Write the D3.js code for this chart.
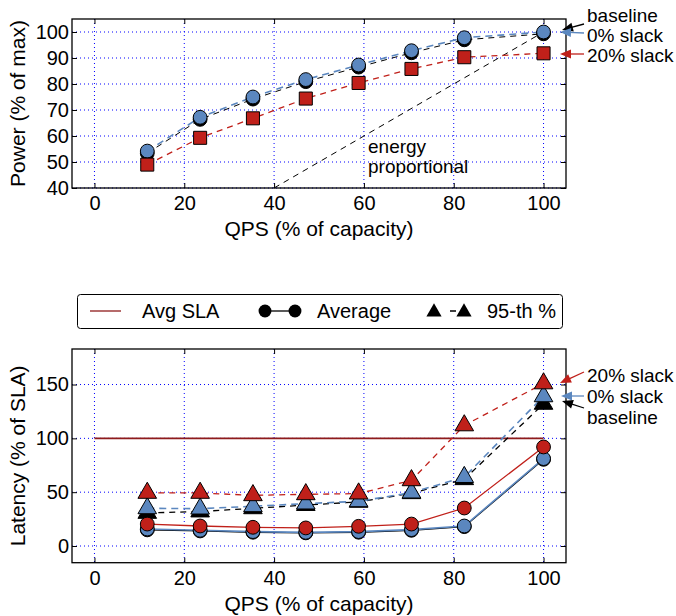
<!DOCTYPE html>
<html>
<head>
<meta charset="utf-8">
<script src="https://cdn.jsdelivr.net/npm/d3@7"></script>
<style>
  body { margin: 0; background: #fff; }
  svg { font-family: "Liberation Sans", Arial, sans-serif; }
</style>
</head>
<body>
<script>
// QPS load points (% of capacity)
const qps = [11.76, 23.53, 35.29, 47.06, 58.82, 70.59, 82.35, 100];

// top: power (% of max)
const powerBaseline = [53.4, 66.4, 74.2, 80.9, 86.5, 92.0, 97.0, 99.3];
const powerSlack0 = [54.2, 67.2, 75.0, 81.7, 87.3, 92.8, 97.8, 100];
const powerSlack20 = [49.0, 59.3, 66.8, 74.4, 80.4, 85.8, 90.3, 91.8];
const energyProp = [[40, 40], [100, 100]];

// bottom: latency (% of SLA)
const avgBaseline = [15.0, 14.0, 12.8, 12.2, 12.8, 14.6, 18.0, 80.5];
const avgSlack0 = [15.8, 14.6, 13.4, 12.7, 13.4, 15.2, 18.6, 81.2];
const avgSlack20 = [20.4, 18.6, 17.4, 16.8, 18.3, 20.4, 35.3, 92.0];
const p95Baseline = [30.7, 32.0, 35.0, 38.0, 41.0, 49.0, 62.0, 132.0];
const p95Slack0 = [35.0, 34.7, 36.9, 39.4, 41.5, 49.6, 64.0, 139.0];
const p95Slack20 = [49.3, 49.3, 47.1, 48.0, 48.7, 61.0, 112.0, 151.0];
const slaLevel = 100;

const xTicks = [0, 20, 40, 60, 80, 100];
const powerTicks = [40, 50, 60, 70, 80, 90, 100];
const latTicks = [0, 50, 100, 150];

const BLUE = "#5b87bf", RED = "#c0201a", DARKRED = "#8e1b1b";

const width = 676, height = 616;
const svg = d3.select("body").append("svg")
    .attr("width", width).attr("height", height);

const x = d3.scaleLinear().domain([-5, 105]).range([72, 566]);
const yP = d3.scaleLinear().domain([40, 105]).range([188, 19]);
const yL = d3.scaleLinear().domain([-15.5, 183]).range([562.7, 349]);

function frame(y, ticks, yLabel, yTop, yBot) {
    const g = svg.append("g");
    // dotted grid
    g.selectAll(".gx").data(xTicks).enter().append("line")
        .attr("x1", d => x(d)).attr("x2", d => x(d))
        .attr("y1", yTop).attr("y2", yBot)
        .attr("stroke", "#0000ff").attr("stroke-width", 1)
        .attr("stroke-dasharray", "1,3");
    g.selectAll(".gy").data(ticks).enter().append("line")
        .attr("x1", 72).attr("x2", 566)
        .attr("y1", d => y(d)).attr("y2", d => y(d))
        .attr("stroke", "#0000ff").attr("stroke-width", 1)
        .attr("stroke-dasharray", "1,3");

    const ax = svg.append("g").attr("transform", `translate(0,${yBot})`)
        .call(d3.axisBottom(x).tickValues(xTicks).tickSize(-5).tickPadding(8));
    const ay = svg.append("g").attr("transform", "translate(72,0)")
        .call(d3.axisLeft(y).tickValues(ticks).tickSize(-5).tickPadding(3));
    [ax, ay].forEach(a => {
        a.select(".domain").remove();
        a.selectAll("text").attr("font-size", 20).attr("fill", "#000")
            .attr("font-family", "Liberation Sans, Arial, sans-serif");
    });
    // tick marks on top/right edges
    svg.append("g").attr("transform", `translate(0,${yTop})`)
        .call(d3.axisTop(x).tickValues(xTicks).tickSize(-5).tickFormat(""))
        .select(".domain").remove();
    svg.append("g").attr("transform", "translate(566,0)")
        .call(d3.axisRight(y).tickValues(ticks).tickSize(-5).tickFormat(""))
        .select(".domain").remove();

    svg.append("rect").attr("x", 72).attr("y", yTop)
        .attr("width", 566 - 72).attr("height", yBot - yTop)
        .attr("fill", "none").attr("stroke", "#000").attr("stroke-width", 1.3);

    svg.append("text").attr("x", (72 + 566) / 2).attr("y", yBot + 48)
        .attr("text-anchor", "middle").attr("font-size", 21)
        .text("QPS (% of capacity)");
    svg.append("text")
        .attr("transform", `translate(25,${(yTop + yBot) / 2}) rotate(-90)`)
        .attr("text-anchor", "middle").attr("font-size", 21)
        .text(yLabel);
}

function series(y, vals, color, dash, w) {
    svg.append("path")
        .datum(qps.map((q, i) => [q, vals[i]]))
        .attr("fill", "none").attr("stroke", color)
        .attr("stroke-width", w || 1.3)
        .attr("stroke-dasharray", dash)
        .attr("d", d3.line().x(d => x(d[0])).y(d => y(d[1])));
}

function markers(y, vals, color, shape, size) {
    svg.append("g").selectAll("path")
        .data(qps.map((q, i) => [q, vals[i]]))
        .enter().append("path")
        .attr("transform", d => `translate(${x(d[0])},${y(d[1])})`)
        .attr("d", d3.symbol().type(shape).size(size))
        .attr("fill", color).attr("stroke", "#000").attr("stroke-width", 1);
}

function arrow(x1, y1, x2, y2, color) {
    const ang = Math.atan2(y2 - y1, x2 - x1);
    const L = 11, W = 4.5;
    svg.append("line").attr("x1", x1).attr("y1", y1)
        .attr("x2", x2 - Math.cos(ang) * L * 0.8).attr("y2", y2 - Math.sin(ang) * L * 0.8)
        .attr("stroke", color).attr("stroke-width", 1.3);
    const bx = x2 - Math.cos(ang) * L, by = y2 - Math.sin(ang) * L;
    const px = -Math.sin(ang) * W, py = Math.cos(ang) * W;
    svg.append("path")
        .attr("d", `M${x2},${y2}L${bx + px},${by + py}L${bx - px},${by - py}Z`)
        .attr("fill", color);
}

function note(txt, tx, ty) {
    svg.append("text").attr("x", tx).attr("y", ty).attr("font-size", 19).text(txt);
}

// ---------- top panel ----------
frame(yP, powerTicks, "Power (% of max)", 19, 188);

svg.append("path").datum(energyProp)
    .attr("fill", "none").attr("stroke", "#000").attr("stroke-width", 1)
    .attr("stroke-dasharray", "6,5")
    .attr("d", d3.line().x(d => x(d[0])).y(d => yP(d[1])));

series(yP, powerBaseline, "#000", "6,5", 1);
series(yP, powerSlack0, BLUE, "7,5", 1.6);
series(yP, powerSlack20, RED, "6,5", 1.3);
markers(yP, powerBaseline, "#000", d3.symbolCircle, 150);
markers(yP, powerSlack0, BLUE, d3.symbolCircle, 150);
markers(yP, powerSlack20, RED, d3.symbolSquare, 170);

svg.append("text").attr("x", 368).attr("y", 153).attr("font-size", 19).text("energy");
svg.append("text").attr("x", 368).attr("y", 173).attr("font-size", 19).text("proportional");

arrow(584, 24, 562, 30, "#000");
arrow(584, 33, 560, 32, BLUE);
arrow(584, 54, 560, 54, RED);
note("baseline", 587, 22);
note("0% slack", 587, 42);
note("20% slack", 587, 62);

// ---------- legend ----------
svg.append("rect").attr("x", 77.5).attr("y", 294.5).attr("width", 485).attr("height", 34)
    .attr("rx", 3).attr("fill", "#fff").attr("stroke", "#000").attr("stroke-width", 1);
svg.append("line").attr("x1", 90).attr("x2", 121).attr("y1", 311).attr("y2", 311)
    .attr("stroke", DARKRED).attr("stroke-width", 1.3);
svg.append("text").attr("x", 142).attr("y", 318).attr("font-size", 20).text("Avg SLA");
svg.append("line").attr("x1", 265).attr("x2", 295).attr("y1", 311).attr("y2", 311)
    .attr("stroke", "#000").attr("stroke-width", 1.3);
[265, 295].forEach(cx => svg.append("path").attr("transform", `translate(${cx},311)`)
    .attr("d", d3.symbol().type(d3.symbolCircle).size(130)).attr("fill", "#000"));
svg.append("text").attr("x", 317).attr("y", 318).attr("font-size", 20).text("Average");
svg.append("line").attr("x1", 442).attr("x2", 456).attr("y1", 311).attr("y2", 311)
    .attr("stroke", "#000").attr("stroke-width", 1.3).attr("stroke-dasharray", "0,8,6");
[434, 464].forEach(cx => svg.append("path").attr("transform", `translate(${cx},312)`)
    .attr("d", d3.symbol().type(d3.symbolTriangle).size(100)).attr("fill", "#000"));
svg.append("text").attr("x", 487).attr("y", 318).attr("font-size", 20).text("95-th %");

// ---------- bottom panel ----------
frame(yL, latTicks, "Latency (% of SLA)", 349, 562.7);

svg.append("line").attr("x1", x(0)).attr("x2", x(100))
    .attr("y1", yL(slaLevel)).attr("y2", yL(slaLevel))
    .attr("stroke", DARKRED).attr("stroke-width", 1.6);

series(yL, p95Baseline, "#000", "6,5", 1.3);
series(yL, p95Slack0, BLUE, "7,5", 1.6);
series(yL, p95Slack20, RED, "6,5", 1.3);
series(yL, avgBaseline, "#000", null, 1.3);
series(yL, avgSlack0, BLUE, null, 1.6);
series(yL, avgSlack20, RED, null, 1.3);

markers(yL, p95Baseline, "#000", d3.symbolTriangle, 150);
markers(yL, p95Slack0, BLUE, d3.symbolTriangle, 150);
markers(yL, p95Slack20, RED, d3.symbolTriangle, 150);
markers(yL, avgBaseline, "#000", d3.symbolCircle, 150);
markers(yL, avgSlack0, BLUE, d3.symbolCircle, 150);
markers(yL, avgSlack20, RED, d3.symbolCircle, 150);

arrow(584, 372, 560, 383, RED);
arrow(584, 396, 561, 396, BLUE);
arrow(584, 408, 562, 401, "#000");
note("20% slack", 587, 382);
note("0% slack", 587, 403);
note("baseline", 587, 424);
</script>
</body>
</html>
